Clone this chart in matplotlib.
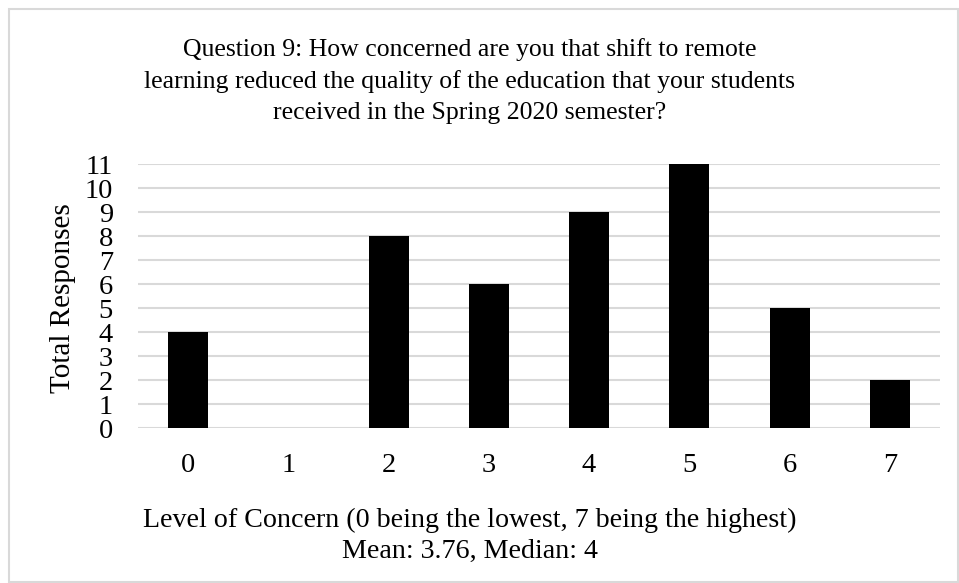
import numpy as np
import matplotlib.pyplot as plt
from matplotlib.patches import Rectangle

levels = ['0', '1', '2', '3', '4', '5', '6', '7']
responses = [4, 0, 8, 6, 9, 11, 5, 2]
yticks = list(range(0, 12))

title = ("Question 9: How concerned are you that shift to remote\n"
         "learning reduced the quality of the education that your students\n"
         "received in the Spring 2020 semester?")
xlabel = "Level of Concern (0 being the lowest, 7 being the highest)"
stats = "Mean: 3.76, Median: 4"

plt.rcParams['font.family'] = ['Liberation Serif', 'DejaVu Serif']

W, H = 959, 583
fig = plt.figure(figsize=(W / 100, H / 100), dpi=100)

# outer chart border
fig.patches.append(Rectangle((9 / W, 1 - 582 / H), 949 / W, 573 / H,
                             transform=fig.transFigure, fill=False,
                             edgecolor='#d9d9d9', linewidth=1.5))

ax = fig.add_axes([138 / W, 1 - 428 / H, 802 / W, 264 / H])
x = np.arange(len(levels))
ax.bar(x, responses, width=0.4, color='black', zorder=3)
ax.set_xlim(-0.5, len(levels) - 0.5)
ax.set_ylim(0, 11)
ax.set_yticks(yticks)
ax.set_xticks(x)
ax.set_xticklabels(levels)
ax.yaxis.grid(True, color='#d9d9d9', linewidth=1.5, zorder=0)
for s in ax.spines.values():
    s.set_visible(False)
ax.tick_params(axis='both', length=0, labelsize=20.5)
ax.tick_params(axis='x', pad=18)
ax.tick_params(axis='y', pad=18)

fig.text(63 / W, 1 - 298 / H, "Total Responses", rotation=90,
         ha='center', va='center', fontsize=21)
fig.text(470 / W, 1 - 81 / H, title, ha='center', va='center',
         fontsize=18.5, linespacing=1.5)
fig.text(470 / W, 1 - 520 / H, xlabel, ha='center', va='center', fontsize=20.2)
fig.text(470 / W, 1 - 551 / H, stats, ha='center', va='center', fontsize=20.2)

fig.savefig('out.png', dpi=100)
